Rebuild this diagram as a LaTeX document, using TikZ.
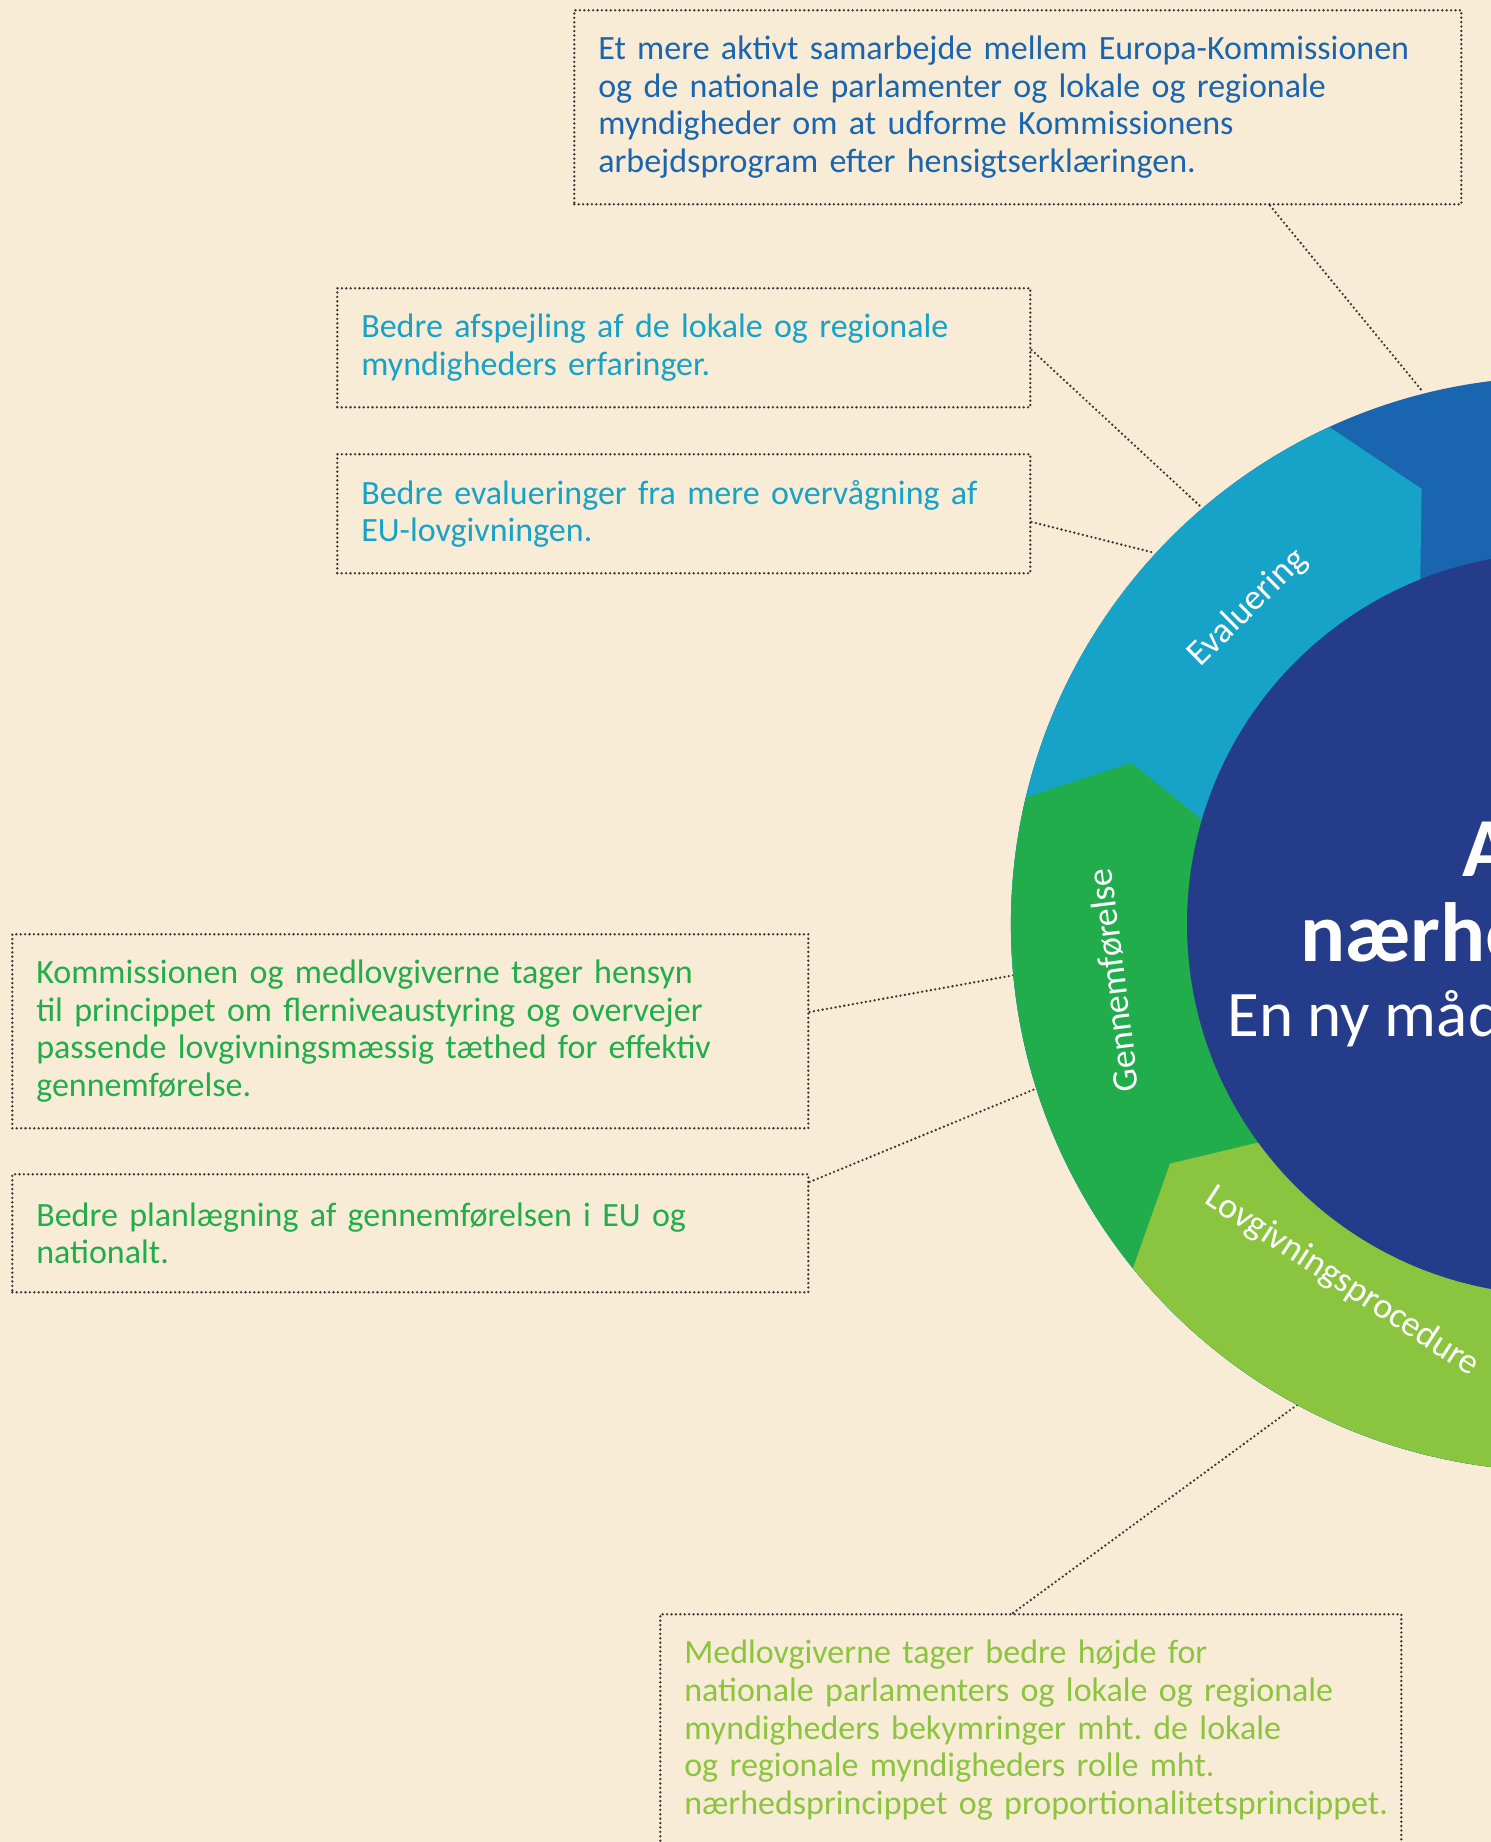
\documentclass[tikz,border=0pt]{standalone}
\usepackage{fontspec}
\setmainfont{Carlito}
\usepackage{xcolor}
\definecolor{bgcream}{RGB}{249,236,214}
\definecolor{eublue}{RGB}{26,101,175}
\definecolor{evalblue}{RGB}{22,163,199}
\definecolor{implgreen}{RGB}{33,173,75}
\definecolor{lawgreen}{RGB}{139,196,63}
\definecolor{corenavy}{RGB}{37,60,138}
\definecolor{dotgrey}{RGB}{55,55,55}
\frenchspacing
\hyphenpenalty=10000
\exhyphenpenalty=10000
\tikzset{
    dotline/.style={draw=dotgrey, line width=1.3pt, line cap=round, dash pattern=on 0pt off 2.2pt},
    notebox/.style={dotline, anchor=north west, align=left, inner xsep=12pt, inner ysep=0pt,
        font=\fontsize{17}{18.8}\selectfont},
    ringlabel/.style={text=white, inner sep=0pt, font=\fontsize{18}{20}\selectfont},
    titletext/.style={text=white, anchor=base west, inner sep=0pt},
}
\usetikzlibrary{calc,positioning}

\begin{document}
\begin{tikzpicture}[x=0.5pt,y=0.5pt]% 1 unit = 1 px of the reference %%%

\useasboundingbox (0,0) rectangle (1491,1842);
\fill[bgcream] (0,0) rectangle (1491,1842);

\scope
\clip (0,0) rectangle (1491,1842);

\node[notebox, text=eublue, text width=419.5pt, minimum height=97pt] (work) at (573,1833)
    {Et mere aktivt samarbejde mellem Europa-Kommissionen\\
     og de nationale parlamenter og lokale og regionale\\
     myndigheder om at udforme Kommissionens\\
     arbejdsprogram efter hensigtserklæringen.};
\node[notebox, text=evalblue, text width=322.5pt, minimum height=59.5pt] (mirror) at (336,1555)
    {Bedre afspejling af de lokale og regionale\\
     myndigheders erfaringer.};
\node[notebox, text=evalblue, text width=322.5pt, minimum height=59.5pt] (monitor) at (336,1389)
    {Bedre evalueringer fra mere overvågning af\\
     EU-lovgivningen.};
\node[notebox, text=implgreen, text width=374pt, minimum height=97pt] (density) at (11,909)
    {Kommissionen og medlovgiverne tager hensyn\\
     til princippet om flerniveaustyring og overvejer\\
     passende lovgivningsmæssig tæthed for effektiv\\
     gennemførelse.};
\node[notebox, text=implgreen, text width=374pt, minimum height=59pt] (planning) at (11,669)
    {Bedre planlægning af gennemførelsen i EU og\\
     nationalt.};
\node[notebox, text=lawgreen, text width=346.5pt, minimum height=116pt] (colegis) at (659,229)
    {Medlovgiverne tager bedre højde for\\
     nationale parlamenters og lokale og regionale\\
     myndigheders bekymringer mht. de lokale\\
     og regionale myndigheders rolle mht.\\
     \mbox{nærhedsprincippet og proportionalitetsprincippet.}};

% ends of the connectors on the ring
\coordinate (r1) at (1423,1450);
\coordinate (r2) at (1200,1336);
\coordinate (r3) at (1155,1289);
\coordinate (r4) at (1015,867);
\coordinate (r5) at (1040,755);
\coordinate (r6) at (1297,437);

\draw[dotline] ([xshift=348.5pt]work.south west) -- (r1);
\draw[dotline] ([yshift=-31.5pt]mirror.north east) -- (r2);
\draw[dotline] ([yshift=-34.5pt]monitor.north east) -- (r3);
\draw[dotline] ([yshift=-39.5pt]density.north east) -- (r4);
\draw[dotline] ([yshift=-4.5pt]planning.north east) -- (r5);
\draw[dotline] ([xshift=177pt]colegis.north west) -- (r6);

\scope[shift={(1558,918)}]
\fill[eublue] (0,0) circle (547);
\foreach \col/\ang in {evalblue/114.7, implgreen/166.6, lawgreen/219.0}
    \fill[\col] ({\ang-2.9}:371) -- ({\ang-7.3}:456) -- (\ang:547)
        arc[start angle=\ang, end angle=330, radius=547] -- (0,0) -- cycle;
\fill[corenavy] (0,0) circle (371);

\node[ringlabel, rotate=44.5] (evalring) at (134.5:443) {Evaluering};
\node[ringlabel, rotate=97] (implring) at (187.2:448) {Gennemførelse};
\node[ringlabel, rotate=-33] (lawring) at (238.9:418) {Lovgivningsprocedure};
\endscope

\node[titletext, font=\bfseries\fontsize{42}{48}\selectfont] (titleA) at (1462,965) {A};
\node[titletext, font=\bfseries\fontsize{42}{48}\selectfont] (titleB) at (1300,880) {nærhe};
\node[titletext, font=\fontsize{32.5}{38}\selectfont] (titleC) at (1227,805) {En ny måd};

\endscope
\end{tikzpicture}
\end{document}
